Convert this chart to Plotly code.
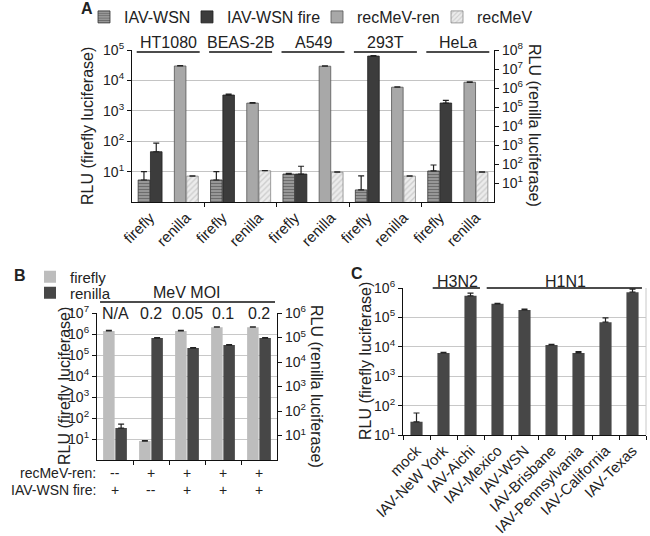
import plotly.graph_objects as go

W, H = 650, 536
def px(x): return x / W
def py(y): return 1 - y / H

FONT = "Liberation Sans, Arial, sans-serif"
TXT = "#222222"

# ---------------- Panel A data ----------------
cell_lines = ["HT1080", "BEAS-2B", "A549", "293T", "HeLa"]
a_ticktext = ["firefly", "renilla"] * 5
wsn = [5.3, 5.3, 8.3, 2.5, 10.5]
wsn_err = [4.7, 4.7, 0.4, 4.7, 6.0]
wsn_fire = [45, 3300, 8.3, 63000, 1800]
wsn_fire_err = [42, 250, 6.7, 3000, 400]
recmev_ren = [1.44e7, 1.6e5, 1.4e7, 1.1e6, 2.0e6]
recmev_ren_err = [5e5, 8e3, 5e5, 5e4, 1e5]
recmev = [23, 44, 37, 23, 37]
recmev_err = [1, 1.5, 1.5, 1, 1.5]

# ---------------- Panel B data ----------------
moi_labels = ["N/A", "0.2", "0.05", "0.1", "0.2"]
b_recmev_row = ["--", "+", "+", "+", "+"]
b_wsn_row = ["+", "--", "+", "+", "+"]
b_firefly = [1.4e6, 8, 1.4e6, 2.1e6, 2.1e6]
b_firefly_err = [8e4, 0.5, 8e4, 1e5, 1e5]
b_renilla = [20, 9.5e4, 3.7e4, 4.9e4, 9.5e4]
b_renilla_err = [9, 4e3, 2e3, 2e3, 4e3]

# ---------------- Panel C data ----------------
c_strains = ["mock", "IAV-NeW York", "IAV-Aichi", "IAV-Mexico", "IAV-WSN",
             "IAV-Brisbane", "IAV-Pennsylvania", "IAV-California", "IAV-Texas"]
c_values = [28, 6200, 5.4e5, 2.9e5, 1.8e5, 1.15e4, 6200, 6.9e4, 7.2e5]
c_err = [28, 300, 1.3e5, 1e4, 1e4, 500, 600, 2.7e4, 2e5]
c_subtypes = ["H3N2", "H1N1"]

fig = go.Figure()

ERR = dict(type="data", symmetric=False, color="#222", thickness=1.2, width=3)

def err(a):
    return dict(ERR, array=a, arrayminus=[0] * len(a))

ff_slots = [2 * i for i in range(len(cell_lines))]
rn_slots = [2 * i + 1 for i in range(len(cell_lines))]
off, bw = 0.17, 0.32

fig.add_trace(go.Bar(
    x=[s - off for s in ff_slots], y=wsn, width=bw, name="IAV-WSN",
    xaxis="x", yaxis="y", legend="legend",
    marker=dict(color="#9a9a9a", line=dict(color="#333", width=0.8),
                pattern=dict(shape="-", fgcolor="#3a3a3a", bgcolor="#a0a0a0", size=3, solidity=0.45)),
    error_y=err(wsn_err)))
fig.add_trace(go.Bar(
    x=[s + off for s in ff_slots], y=wsn_fire, width=bw, name="IAV-WSN fire",
    xaxis="x", yaxis="y", legend="legend2",
    marker=dict(color="#3c3c3c", line=dict(color="#222", width=0.8)),
    error_y=err(wsn_fire_err)))
fig.add_trace(go.Bar(
    x=[s - off for s in rn_slots], y=recmev_ren, width=bw, name="recMeV-ren",
    xaxis="x", yaxis="y2", legend="legend3",
    marker=dict(color="#a8a8a8", line=dict(color="#555", width=0.8)),
    error_y=err(recmev_ren_err)))
fig.add_trace(go.Bar(
    x=[s + off for s in rn_slots], y=recmev, width=bw, name="recMeV",
    xaxis="x", yaxis="y2", legend="legend4",
    marker=dict(color="#e4e4e4", line=dict(color="#888", width=0.8),
                pattern=dict(shape="/", fgcolor="#b0b0b0", bgcolor="#ececec", size=4, solidity=0.35)),
    error_y=err(recmev_err)))

# Panel B
b_x = list(range(len(moi_labels)))
fig.add_trace(go.Bar(
    x=[v - off for v in b_x], y=b_firefly, width=bw, name="firefly",
    xaxis="x2", yaxis="y3", legend="legend5",
    marker=dict(color="#bdbdbd", line=dict(width=0)),
    error_y=err(b_firefly_err)))
fig.add_trace(go.Bar(
    x=[v + off for v in b_x], y=b_renilla, width=bw, name="renilla",
    xaxis="x2", yaxis="y4", legend="legend6",
    marker=dict(color="#474747", line=dict(width=0)),
    error_y=err(b_renilla_err)))

# Panel C
fig.add_trace(go.Bar(
    x=c_strains, y=c_values, width=0.45, showlegend=False,
    xaxis="x3", yaxis="y5",
    marker=dict(color="#474747", line=dict(width=0)),
    error_y=err(c_err)))

def sup_ticks(lo, hi):
    vals = [10 ** k for k in range(lo, hi + 1)]
    txt = ["10<sup>%d</sup>" % k for k in range(lo, hi + 1)]
    return vals, txt

tickfont = dict(family=FONT, size=14, color=TXT)
xtickfont = dict(family=FONT, size=15, color=TXT)
common_y = dict(type="log", showline=True, linecolor="#111", linewidth=1.2,
                ticks="outside", ticklen=4, tickcolor="#111", tickfont=tickfont,
                zeroline=False, automargin=False)

av, at = sup_ticks(1, 5)
a2v, a2t = sup_ticks(1, 8)
bv, bt = sup_ticks(1, 7)
b2v, b2t = sup_ticks(1, 6)
cv, ct = sup_ticks(1, 6)

fig.update_layout(
    width=W, height=H, margin=dict(l=0, r=0, t=0, b=0, autoexpand=False),
    paper_bgcolor="white", plot_bgcolor="white",
    barmode="overlay", font=dict(family=FONT, size=16, color=TXT),
    xaxis=dict(domain=[px(132), px(494)], anchor="y", range=[-0.5, 9.5],
               tickmode="array", tickvals=list(range(10)), ticktext=a_ticktext,
               tickangle=-45, ticks="", tickfont=xtickfont, showgrid=False, zeroline=False,
               showline=True, linecolor="#111", linewidth=1.2, automargin=False,
               minor=dict(tickmode="array", tickvals=[1.5, 3.5, 5.5, 7.5], ticks="outside",
                          ticklen=4, tickcolor="#111", showgrid=False)),
    yaxis=dict(common_y, domain=[py(202), py(50)], anchor="x", range=[0, 5],
               tickvals=av, ticktext=at, showgrid=True, gridcolor="#c4c4c4", gridwidth=1),
    yaxis2=dict(common_y, overlaying="y", side="right", anchor="x", range=[0, 8],
                tickvals=a2v, ticktext=a2t, showgrid=False),
    xaxis2=dict(domain=[px(97), px(277)], anchor="y3", range=[-0.5, 4.5],
                showticklabels=False, ticks="", showgrid=False, zeroline=False,
                showline=True, linecolor="#111", linewidth=1.2, automargin=False,
                minor=dict(tickmode="array", tickvals=[0.5, 1.5, 2.5, 3.5], ticks="outside",
                           ticklen=4, tickcolor="#111", showgrid=False)),
    yaxis3=dict(common_y, domain=[py(460), py(313)], anchor="x2", range=[0, 7],
                tickvals=bv, ticktext=bt, showgrid=True, gridcolor="#c8c8c8"),
    yaxis4=dict(common_y, overlaying="y3", side="right", anchor="x2", range=[0, 6],
                tickvals=b2v, ticktext=b2t, showgrid=False),
    xaxis3=dict(domain=[px(403), px(646)], anchor="y5", type="category",
                tickangle=-45, ticks="", tickfont=xtickfont, showgrid=False,
                showline=True, linecolor="#111", linewidth=1.2, mirror=False, automargin=False,
                minor=dict(tickmode="array", tickvals=[i + 0.5 for i in range(-1, 9)],
                           ticks="outside", ticklen=4, tickcolor="#111", showgrid=False)),
    yaxis5=dict(common_y, domain=[py(435), py(288)], anchor="x3", range=[1, 6],
                tickvals=cv, ticktext=ct, showgrid=True, gridcolor="#c8c8c8"),
)

leg_common = dict(orientation="h", font=dict(family=FONT, size=16, color=TXT),
                  bgcolor="rgba(0,0,0,0)", borderwidth=0, xanchor="left", yanchor="middle")
leg_small = dict(leg_common, font=dict(family=FONT, size=15, color=TXT))
fig.update_layout(
    legend=dict(leg_common, x=px(84), y=py(17)),
    legend2=dict(leg_common, x=px(187), y=py(17)),
    legend3=dict(leg_common, x=px(317), y=py(17)),
    legend4=dict(leg_common, x=px(437), y=py(17)),
    legend5=dict(leg_small, x=px(30), y=py(277)),
    legend6=dict(leg_small, x=px(30), y=py(293)),
)

ann = []
shapes = []

def A(text, x, y, xref="paper", size=16, xanchor="center", **kw):
    d = dict(text=text, x=x, y=y, xref=xref, yref="paper", showarrow=False,
             xanchor=xanchor, yanchor="middle", font=dict(family=FONT, size=size, color=TXT))
    d.update(kw)
    ann.append(d)

# panel letters
for lab, x, y in [("A", 87, 9), ("B", 20, 275), ("C", 357, 273)]:
    A("<b>%s</b>" % lab, px(x), py(y))
# axis titles
for t, x, y, ang in [("RLU (firefly luciferase)", 88, 126, -90),
                     ("RLU (renilla luciferase)", 535, 125, 90),
                     ("RLU (firefly luciferase)", 64, 386, -90),
                     ("RLU (renilla luciferase)", 317, 386, 90),
                     ("RLU (firefly luciferase)", 365, 361, -90)]:
    A(t, px(x), py(y), textangle=ang)
# Panel A group labels
for i, name in enumerate(cell_lines):
    c = 2 * i + 0.5
    A(name, c, py(43), xref="x")
    shapes.append(dict(type="line", x0=c - 0.87, x1=c + 0.87, y0=py(52), y1=py(52),
                       xref="x", yref="paper", line=dict(color="#111", width=1.3)))
# Panel B labels
A("MeV MOI", 2, py(292), xref="x2")
shapes.append(dict(type="line", x0=0.017, x1=0.989, y0=py(302), y1=py(302),
                   xref="x2 domain", yref="paper", line=dict(color="#111", width=1.3)))
for i, t in enumerate(moi_labels):
    A(t, i, py(313), xref="x2", bgcolor="white", borderpad=0)
A("recMeV-ren:", px(97), py(473), size=14, xanchor="right", borderpad=0)
A("IAV-WSN fire:", px(97), py(490), size=14, xanchor="right", borderpad=0)
for i, (r1, r2) in enumerate(zip(b_recmev_row, b_wsn_row)):
    A(r1, i, py(473), xref="x2", size=14, borderpad=0)
    A(r2, i, py(490), xref="x2", size=14, borderpad=0)
# Panel C subtype labels
for name, a, b in [(c_subtypes[0], 0.5, 2.5), (c_subtypes[1], 2.5, 8.5)]:
    A(name, (a + b) / 2, py(281), xref="x3")
    shapes.append(dict(type="line", x0=a + 0.1, x1=b - 0.15, y0=py(288), y1=py(288),
                       xref="x3", yref="paper", line=dict(color="#111", width=1.3)))
# light right border of panel C
shapes.append(dict(type="line", x0=1, x1=1, y0=0, y1=1, xref="x3 domain", yref="y5 domain",
                   line=dict(color="#c8c8c8", width=1)))

fig.update_layout(annotations=ann, shapes=shapes)
fig.write_html("out.html", config={"displayModeBar": False},
               post_script="document.body.style.margin='0';document.body.style.overflow='hidden';")
